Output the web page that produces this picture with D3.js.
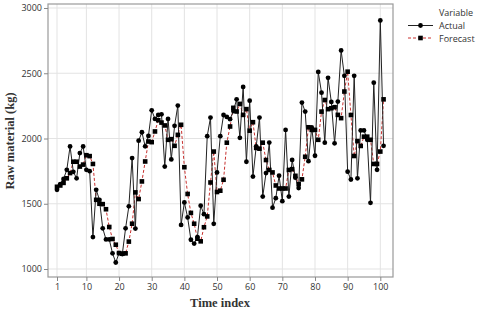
<!DOCTYPE html>
<html><head><meta charset="utf-8">
<script src="https://cdn.jsdelivr.net/npm/d3@7"></script>
<style>body{margin:0;background:#fff}svg{display:block}</style>
</head><body>
<svg id="c" width="480" height="319"></svg>
<script>
const actual = [1607,1650,1690,1760,1939,1745,1695,1888,1939,1760,
1750,1245,1607,1530,1312,1227,1227,1120,1050,1122,
1115,1312,1480,1850,1310,1983,2048,1940,2020,2216,
2150,2180,2185,1785,2150,1840,2097,2252,1338,1510,
1395,1224,1195,1245,1485,1420,2018,2160,1346,1740,
2018,2180,2165,2148,2210,2300,2005,2395,1822,2290,
1708,1939,2160,1555,1735,1969,1470,1543,1715,1520,
2066,1555,1836,1700,1620,2275,2206,1826,2085,1868,
2510,2351,1968,2465,2280,1963,2283,2675,2480,1746,
1686,2480,1695,2062,2062,1990,1507,2428,1760,2905,1944];
const forecast = [1630,1640,1660,1695,1735,1822,1822,1785,1800,1872,
1865,1805,1530,1500,1497,1458,1322,1230,1186,1122,
1117,1120,1210,1347,1587,1536,1671,1824,1977,1972,
2054,2140,2122,2100,1990,1995,1944,2028,2105,1780,
1575,1430,1347,1232,1212,1320,1403,1663,1900,1590,
1600,1684,1968,2092,2235,2207,2265,2181,2225,2060,
2125,1928,1922,1968,1835,1759,1740,1640,1617,1617,
1617,1759,1765,1714,1650,1687,1860,2086,2066,2066,
1990,2206,2295,2225,2232,2240,2181,2156,2360,2512,
2180,1866,1980,1943,2014,2014,1990,1805,1805,1900,2300];
const xTicks = [1,10,20,30,40,50,60,70,80,90,100];
const yTicks = [1000,1500,2000,2500,3000];
const seriesNames = ["Actual","Forecast"];

const svg = d3.select("#c");
const L=48, R=393, T=4, B=277;
const x = d3.scaleLinear().domain([1,100]).range([57,380.3]);
const y = d3.scaleLinear().domain([1000,3000]).range([269,8]);
const idx = d3.range(1, actual.length+1);

// gridlines
svg.append("g").selectAll("line").data(xTicks).join("line")
  .attr("x1",d=>x(d)).attr("x2",d=>x(d)).attr("y1",T).attr("y2",B)
  .attr("stroke","#e3e3e3").attr("stroke-width",1);
svg.append("g").selectAll("line").data(yTicks).join("line")
  .attr("x1",L).attr("x2",R).attr("y1",d=>y(d)).attr("y2",d=>y(d))
  .attr("stroke","#e3e3e3").attr("stroke-width",1);

// panel border
svg.append("rect").attr("x",L).attr("y",T).attr("width",R-L).attr("height",B-T)
  .attr("fill","none").attr("stroke","#9a9a9a").attr("stroke-width",1.2);

// axes
const xa = svg.append("g").attr("transform",`translate(0,${B})`)
  .call(d3.axisBottom(x).tickValues(xTicks).tickSize(4).tickPadding(3));
const ya = svg.append("g").attr("transform",`translate(${L},0)`)
  .call(d3.axisLeft(y).tickValues(yTicks).tickSize(4).tickPadding(2).tickFormat(d3.format("d")));
[xa,ya].forEach(a=>{
  a.select(".domain").remove();
  a.selectAll("line").attr("stroke","#888");
  a.selectAll("text").attr("fill","#333").style("font-family","'Open Sans',sans-serif").style("font-size","9px");
});

// lines
const line = d3.line().x((d,i)=>x(idx[i])).y(d=>y(d));
svg.append("path").datum(forecast).attr("d",line).attr("fill","none")
  .attr("stroke","#c8312f").attr("stroke-width",1).attr("stroke-dasharray","3,2");
svg.append("path").datum(actual).attr("d",line).attr("fill","none")
  .attr("stroke","#222").attr("stroke-width",1);

// markers
svg.append("g").selectAll("rect").data(forecast).join("rect")
  .attr("x",(d,i)=>x(idx[i])-2.3).attr("y",d=>y(d)-2.3).attr("width",4.6).attr("height",4.6)
  .attr("fill","#000");
svg.append("g").selectAll("circle").data(actual).join("circle")
  .attr("cx",(d,i)=>x(idx[i])).attr("cy",d=>y(d)).attr("r",2.4).attr("fill","#000");

// axis titles
svg.append("text").attr("x",220).attr("y",307).attr("text-anchor","middle")
  .style("font-family","'Liberation Serif','Times New Roman',serif").style("font-weight","bold")
  .style("font-size","12.5px").attr("fill","#333").text("Time index");
svg.append("text").attr("transform","translate(14,141) rotate(-90)").attr("text-anchor","middle")
  .style("font-family","'Liberation Serif','Times New Roman',serif").style("font-weight","bold")
  .style("font-size","12.5px").attr("fill","#333").text("Raw material (kg)");

// legend
const lg = svg.append("g").style("font-family","'Open Sans',sans-serif").style("font-size","9px").attr("fill","#333");
lg.append("text").attr("x",439).attr("y",16).text("Variable");
lg.append("line").attr("x1",408).attr("x2",433).attr("y1",25.5).attr("y2",25.5).attr("stroke","#222").attr("stroke-width",1);
lg.append("circle").attr("cx",420.5).attr("cy",25.5).attr("r",2.4).attr("fill","#000");
lg.append("text").attr("x",439).attr("y",29).text(seriesNames[0]);
lg.append("line").attr("x1",408).attr("x2",433).attr("y1",38).attr("y2",38).attr("stroke","#c8312f").attr("stroke-width",1).attr("stroke-dasharray","3,2");
lg.append("rect").attr("x",418.2).attr("y",35.7).attr("width",4.6).attr("height",4.6).attr("fill","#000");
lg.append("text").attr("x",439).attr("y",42).text(seriesNames[1]);
</script>
</body></html>
